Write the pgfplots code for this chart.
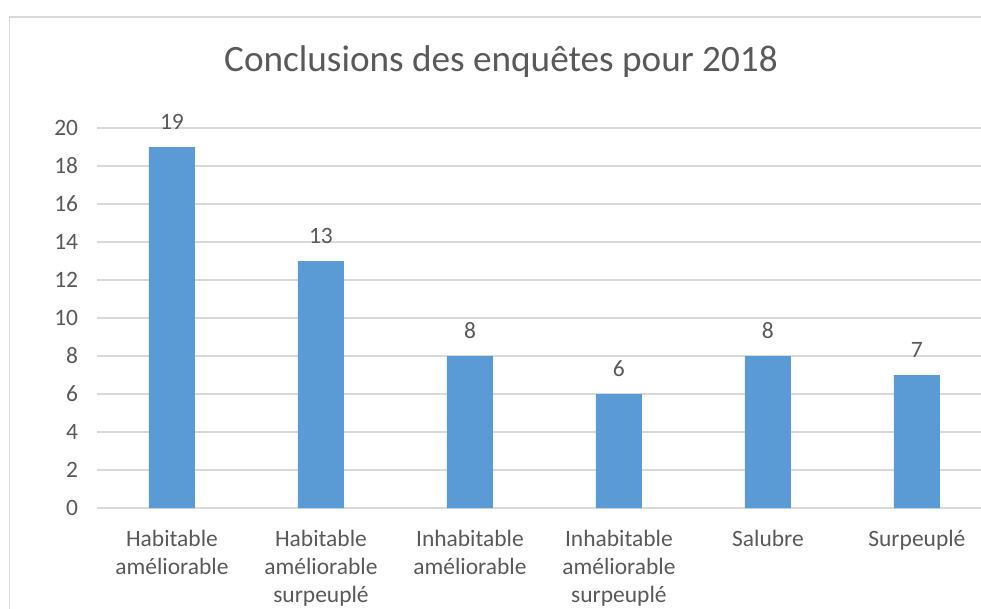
\documentclass[border=0pt]{standalone}
\usepackage{pgfplots}
\pgfplotsset{compat=1.18}
\usepackage{fontspec}
\setmainfont{Carlito}
\definecolor{barblue}{HTML}{5B9BD5}
\definecolor{txtgray}{HTML}{595959}
\definecolor{gridgray}{HTML}{D9D9D9}
\begin{document}
\begin{tikzpicture}
\begin{axis}[
  scale only axis, width=662.6pt, height=285pt,
  xmin=-0.5, xmax=5.43, ymin=0, ymax=20,
  enlargelimits=false,
  axis line style={draw=none},
  tick style={draw=none},
  ymajorgrids, grid style={gridgray, line width=0.9pt},
  ytick={0,2,...,20},
  xtick={0,...,5},
  xticklabels={Habitable\\améliorable, Habitable\\améliorable\\surpeuplé, Inhabitable\\améliorable, Inhabitable\\améliorable\\surpeuplé, Salubre, Surpeuplé},
  xticklabel style={align=center, font=\fontsize{17.6}{21}\selectfont, color=txtgray, anchor=north, yshift=-9pt},
  yticklabel style={font=\fontsize{17.6}{21}\selectfont, color=txtgray, anchor=east, xshift=-11pt},
  /pgf/number format/assume math mode=true,
  ybar, bar width=34.5pt,
  nodes near coords,
  every node near coord/.append style={font=\fontsize{17.6}{21}\selectfont, color=txtgray, yshift=9.5pt},
  clip=false,
]
\addplot[fill=barblue, draw=none] coordinates {(0,19) (1,13) (2,8) (3,6) (4,8) (5,7)};
\coordinate (O) at (axis cs:-0.5,0);
\end{axis}
\pgfresetboundingbox
\path[use as bounding box] ([shift={(-73.125pt,-75pt)}]O) rectangle ++(735.75pt,456pt);
\draw[gridgray, line width=1.1pt] ([shift={(-66pt,-80pt)}]O) -- ([shift={(-66pt,368.25pt)}]O) -- ([shift={(665pt,368.25pt)}]O);
\node[txtgray, font=\fontsize{27.9}{33}\selectfont] at ([shift={(302.625pt,334.5pt)}]O) {Conclusions des enquêtes pour 2018};
\end{tikzpicture}
\end{document}
